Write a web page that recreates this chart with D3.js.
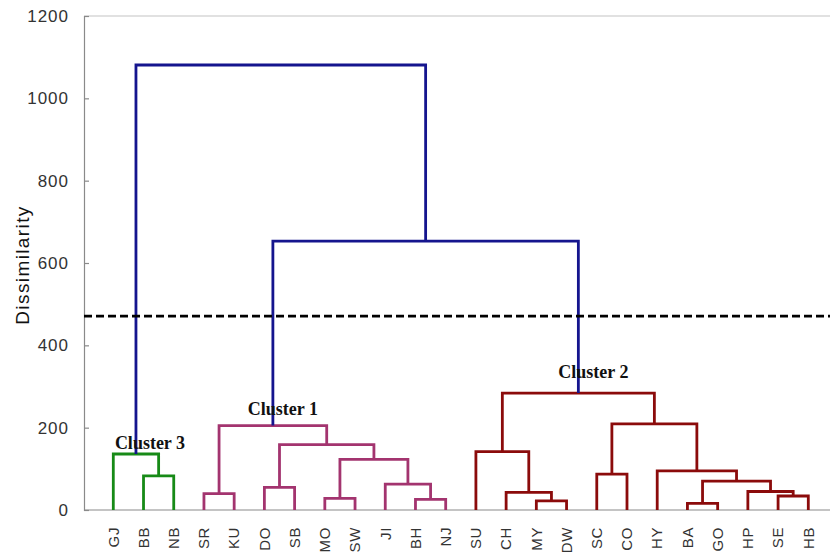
<!DOCTYPE html>
<html>
<head>
<meta charset="utf-8">
<script src="https://cdn.jsdelivr.net/npm/d3@7"></script>
<style>
  body { margin: 0; background: #fff; }
  svg { display: block; }
</style>
</head>
<body>
<svg id="chart" width="830" height="554"></svg>
<script>
// Leaf order along the x axis
const leaves = ["GJ","BB","NB","SR","KU","DO","SB","MO","SW","JI","BH","NJ",
                "SU","CH","MY","DW","SC","CO","HY","BA","GO","HP","SE","HB"];

// Agglomeration steps: each joins two nodes, either leaf names or the index of an earlier step
const mergePairs = [
  ["BB","NB"],   // 0
  ["GJ",0],      // 1
  ["SR","KU"],   // 2
  ["DO","SB"],   // 3
  ["MO","SW"],   // 4
  ["BH","NJ"],   // 5
  ["JI",5],      // 6
  [4,6],         // 7
  [3,7],         // 8
  [2,8],         // 9
  ["MY","DW"],   // 10
  ["CH",10],     // 11
  ["SU",11],     // 12
  ["SC","CO"],   // 13
  ["BA","GO"],   // 14
  ["SE","HB"],   // 15
  ["HP",15],     // 16
  [14,16],       // 17
  ["HY",17],     // 18
  [13,18],       // 19
  [12,19],       // 20
  [9,20],        // 21
  [1,21]         // 22
];
// Dissimilarity at which each step joins its two nodes
const mergeHeights = [83,136,40,55,28,26,63,123,159,205,
                      22,43,142,87,16,34,45,70,95,209,284,653,1081];

const clusterNames  = ["Cluster 1","Cluster 2","Cluster 3"];
const clusterRoots  = [9, 20, 1];
const clusterColors = ["#a3346f","#8b0b0b","#178a17"];
const upperColor = "#15158e";

const cutHeight = 471;
const yTicks = [0,200,400,600,800,1000,1200];

// ---- layout ----
const plot = { left: 84, right: 830, top: 16, bottom: 510 };
const svg = d3.select("#chart");

const x = d3.scalePoint().domain(leaves).range([113.3, 808.3]);
const y = d3.scaleLinear().domain([0, 1200]).range([plot.bottom, plot.top]);

// node position helpers
const mergeX = [];
function nodeX(n) { return typeof n === "string" ? x(n) : mergeX[n]; }
function nodeH(n) { return typeof n === "string" ? 0 : mergeHeights[n]; }
mergePairs.forEach((p, i) => { mergeX[i] = (nodeX(p[0]) + nodeX(p[1])) / 2; });

// colour of every step: inside a cluster subtree -> cluster colour
const mergeColor = mergePairs.map(() => upperColor);
function paint(i, c) {
  mergeColor[i] = c;
  mergePairs[i].forEach(n => { if (typeof n !== "string") paint(n, c); });
}
clusterRoots.forEach((r, k) => paint(r, clusterColors[k]));

// frame: light top rule, grey left and bottom axes
svg.append("line").attr("x1", plot.left).attr("x2", plot.right)
  .attr("y1", plot.top).attr("y2", plot.top)
  .attr("stroke", "#c4c4c4").attr("stroke-width", 1.2);

const yAxis = d3.axisRight(y).tickValues(yTicks).tickSize(5).tickFormat("");
const gy = svg.append("g").attr("transform", `translate(${plot.left},0)`).call(yAxis);
gy.select(".domain").attr("stroke", "#8a8a8a").attr("stroke-width", 1.2);
gy.selectAll(".tick line").attr("stroke", "#8a8a8a").attr("stroke-width", 1.2);

svg.append("g").selectAll("text").data(yTicks).join("text")
  .attr("x", 69).attr("y", d => y(d)).attr("dy", "0.35em")
  .attr("text-anchor", "end")
  .style("font-family", "'Liberation Sans', Arial, sans-serif")
  .style("font-size", "17px").style("letter-spacing", "1px").attr("fill", "#333")
  .text(d => d);

svg.append("line").attr("x1", plot.left).attr("x2", plot.right)
  .attr("y1", plot.bottom).attr("y2", plot.bottom)
  .attr("stroke", "#8a8a8a").attr("stroke-width", 1.2);

svg.append("text")
  .attr("transform", "translate(22,265) rotate(-90)")
  .attr("text-anchor", "middle").attr("dy", "0.35em")
  .style("font-family", "'Liberation Sans', Arial, sans-serif")
  .style("font-size", "19px").style("letter-spacing", "1.4px").attr("fill", "#111")
  .text("Dissimilarity");

// leaf labels, rotated
svg.append("g").selectAll("text").data(leaves).join("text")
  .attr("transform", d => `translate(${x(d)},527) rotate(-90)`)
  .attr("text-anchor", "end").attr("dy", "0.35em")
  .style("font-family", "'Liberation Sans', Arial, sans-serif")
  .style("font-size", "15px").style("letter-spacing", "0.6px").attr("fill", "#333")
  .text(d => d);

// elbow links
svg.append("g").attr("fill", "none")
  .selectAll("path").data(mergePairs).join("path")
  .attr("d", (p, i) => {
    const xa = nodeX(p[0]), xb = nodeX(p[1]);
    return `M${xa},${y(nodeH(p[0]))}V${y(mergeHeights[i])}H${xb}V${y(nodeH(p[1]))}`;
  })
  .attr("stroke", (p, i) => mergeColor[i])
  .attr("stroke-width", 2.8)
  .attr("stroke-linejoin", "miter")
  .attr("stroke-linecap", "butt");

// cut line
svg.append("line").attr("x1", plot.left).attr("x2", plot.right)
  .attr("y1", y(cutHeight)).attr("y2", y(cutHeight))
  .attr("stroke", "#000").attr("stroke-width", 2.6)
  .attr("stroke-dasharray", "8,4");

// cluster captions
const captionShift = [{dx: 10, dy: -11}, {dx: 15, dy: -15}, {dx: 14, dy: -5}];
svg.append("g").selectAll("text").data(clusterNames).join("text")
  .attr("x", (d, k) => mergeX[clusterRoots[k]] + captionShift[k].dx)
  .attr("y", (d, k) => y(mergeHeights[clusterRoots[k]]) + captionShift[k].dy)
  .attr("text-anchor", "middle")
  .style("font-family", "'Liberation Serif', 'Times New Roman', serif")
  .style("font-size", "18px").style("font-weight", "bold").attr("fill", "#111")
  .text(d => d);
</script>
</body>
</html>
